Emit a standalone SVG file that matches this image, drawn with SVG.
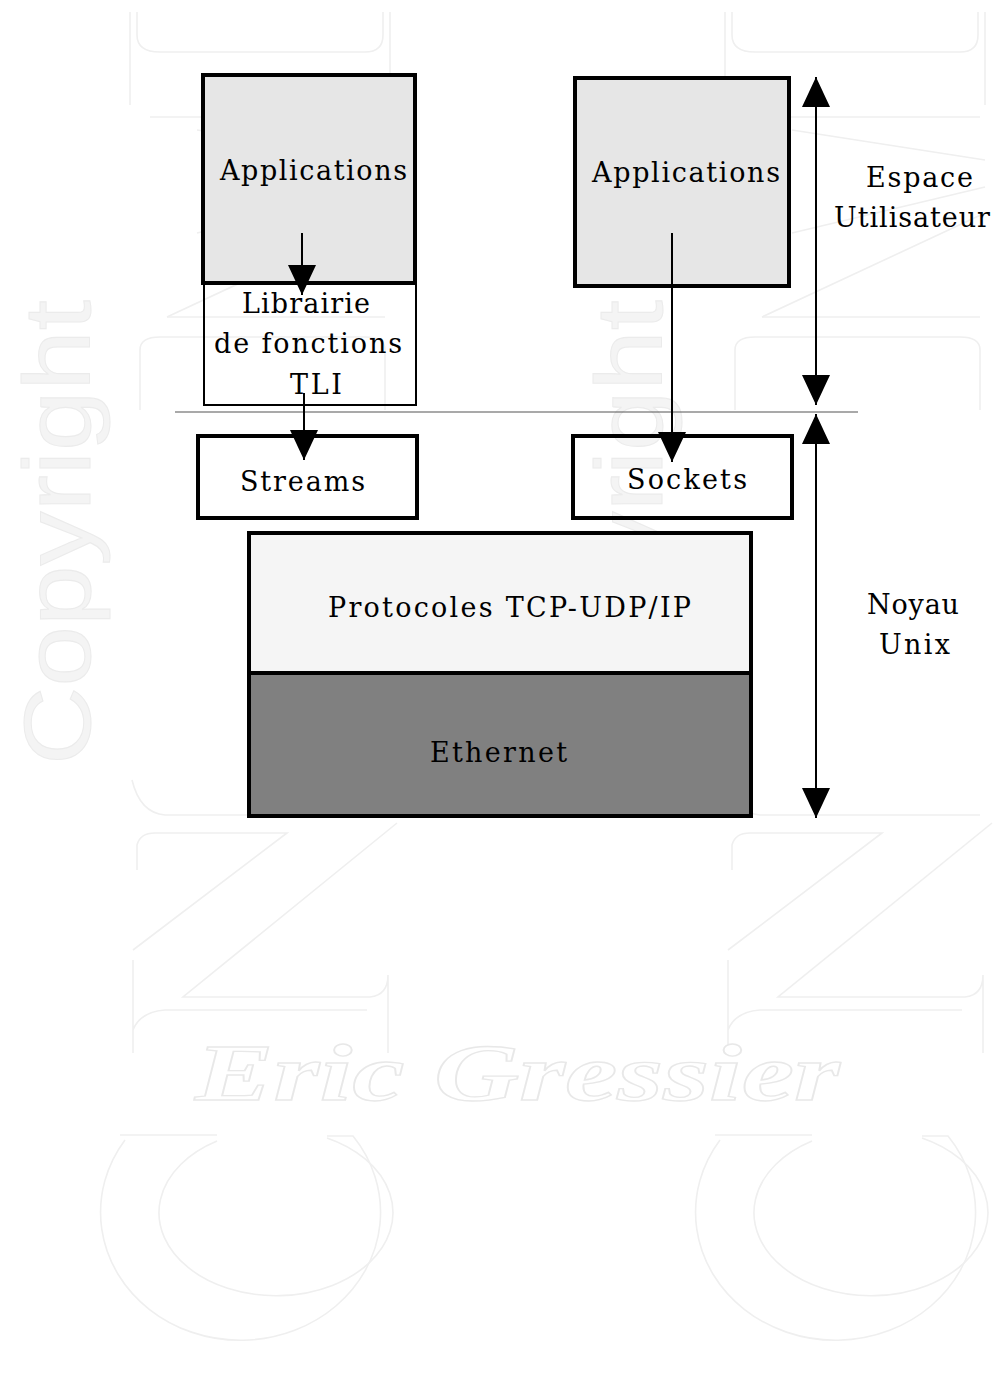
<svg xmlns="http://www.w3.org/2000/svg" xmlns:xlink="http://www.w3.org/1999/xlink" width="995" height="1384" viewBox="0 0 995 1384">
  <style>
    .wm { fill: none; stroke: #efefef; stroke-width: 1.6; }
    .wmtext { font-family: "Liberation Sans", Arial, sans-serif; fill: #f4f4f4; stroke: #ebebeb; stroke-width: 1; }
    .wmname { font-family: "Liberation Serif", "Times New Roman", serif; font-style: italic; font-weight: bold; fill: #ffffff; stroke: #e8e8e8; stroke-width: 1.3; }
    .box { stroke: #000; stroke-width: 4; }
    .thin { stroke: #000; stroke-width: 2; fill: none; }
    .lbl { font-family: "DejaVu Serif", "Liberation Serif", serif; font-size: 27px; fill: #000; }
    .conn { stroke: #000; stroke-width: 2; fill: none; }
  </style>
  <defs>
    <marker id="head" markerUnits="userSpaceOnUse" markerWidth="30" markerHeight="28" viewBox="0 0 30 28" refX="30" refY="14" orient="auto-start-reverse">
      <path d="M0,0 L30,14 L0,28 Z" fill="#000"/>
    </marker>
    <g id="logo" class="wm">
      <path d="M137,12 V35 Q137,52 160,52 H365 Q383,52 383,35 V12"/>
      <path d="M130,12 V105 M390,12 V105"/>
      <path d="M150,117 H385"/>
      <path d="M197,130 L390,160"/>
      <path d="M197,233 L390,187"/>
      <path d="M167,317 L390,213"/>
      <path d="M167,317 H385"/>
      <path d="M140,410 V350 Q140,337 160,337 H365 Q385,337 385,350 V410"/>
      <path d="M132,780 Q140,813 165,815 H385"/>
      <path d="M137,870 V845 Q140,833 155,833 H287 L133,950"/>
      <path d="M397,823 L183,997 H370 Q388,995 388,975 V1053"/>
      <path d="M133,1053 V960 M133,1030 Q140,1012 165,1010 H367"/>
      <path d="M120,1135 H217"/>
      <path d="M217,1141 A117,83 0 1 0 327,1138"/>
      <path d="M327,1136 H353 A140,128 0 1 1 125,1140"/>
    </g>
  </defs>

  <rect width="995" height="1384" fill="#ffffff"/>

  <g id="watermark">
    <use xlink:href="#logo" href="#logo"/>
    <use xlink:href="#logo" href="#logo" x="595"/>
    <text class="wmtext" font-size="95" transform="translate(90,765) rotate(-90)" textLength="465" lengthAdjust="spacingAndGlyphs">Copyright</text>
    <text class="wmtext" font-size="95" transform="translate(662,765) rotate(-90)" textLength="465" lengthAdjust="spacingAndGlyphs">Copyright</text>
    <text class="wmname" x="195" y="1100" font-size="80" textLength="645" lengthAdjust="spacingAndGlyphs">Eric Gressier</text>
  </g>

  <line id="separator" x1="175" y1="412" x2="858" y2="412" stroke="#555" stroke-width="1.2"/>

  <g id="app-left">
    <rect class="box" x="203" y="75" width="212" height="208" fill="#e6e6e6"/>
    <text class="lbl" x="220" y="180" textLength="187" lengthAdjust="spacing">Applications</text>
  </g>

  <g id="librairie-tli">
    <rect class="thin" x="204" y="284" width="212" height="121"/>
    <text class="lbl" x="242" y="313" textLength="128" lengthAdjust="spacing">Librairie</text>
    <text class="lbl" x="214" y="353" textLength="188" lengthAdjust="spacing">de fonctions</text>
    <text class="lbl" x="290" y="394" textLength="52" lengthAdjust="spacing">TLI</text>
  </g>

  <g id="app-right">
    <rect class="box" x="575" y="78" width="214" height="208" fill="#e6e6e6"/>
    <text class="lbl" x="592" y="182" textLength="188" lengthAdjust="spacing">Applications</text>
  </g>

  <g id="streams">
    <rect class="box" x="198" y="436" width="219" height="82" fill="none"/>
    <text class="lbl" x="240" y="491" textLength="125" lengthAdjust="spacing">Streams</text>
  </g>

  <g id="sockets">
    <rect class="box" x="573" y="436" width="219" height="82" fill="none"/>
    <text class="lbl" x="627" y="489" textLength="120" lengthAdjust="spacing">Sockets</text>
  </g>

  <g id="protocoles">
    <rect class="box" x="249" y="533" width="502" height="140" fill="#f5f5f5"/>
    <text class="lbl" x="328" y="617" textLength="363" lengthAdjust="spacing">Protocoles TCP-UDP/IP</text>
  </g>

  <g id="ethernet">
    <rect class="box" x="249" y="673" width="502" height="143" fill="#808080"/>
    <text class="lbl" x="430" y="762" textLength="137" lengthAdjust="spacing">Ethernet</text>
  </g>

  <g id="label-espace">
    <text class="lbl" x="866" y="187" textLength="107" lengthAdjust="spacing">Espace</text>
    <text class="lbl" x="834" y="227" textLength="156" lengthAdjust="spacing">Utilisateur</text>
  </g>

  <g id="label-noyau">
    <text class="lbl" x="867" y="614" textLength="92" lengthAdjust="spacing">Noyau</text>
    <text class="lbl" x="879" y="654" textLength="71" lengthAdjust="spacing">Unix</text>
  </g>

  <g id="connectors">
    <line class="conn" x1="302" y1="233" x2="302" y2="295" marker-end="url(#head)"/>
    <line class="conn" x1="304" y1="393" x2="304" y2="460" marker-end="url(#head)"/>
    <line class="conn" x1="672" y1="233" x2="672" y2="462" marker-end="url(#head)"/>
    <line class="conn" x1="816" y1="77" x2="816" y2="405" marker-start="url(#head)" marker-end="url(#head)"/>
    <line class="conn" x1="816" y1="414" x2="816" y2="818" marker-start="url(#head)" marker-end="url(#head)"/>
  </g>
</svg>
